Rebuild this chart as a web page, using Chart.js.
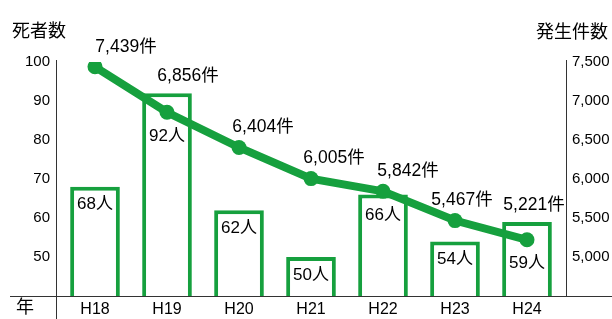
<!DOCTYPE html>
<html>
<head>
<meta charset="utf-8">
<script src="https://cdn.jsdelivr.net/npm/chart.js@4"></script>
<style>
body { margin: 0; background: #fff; }
</style>
</head>
<body>
<canvas id="graf" width="612" height="319"></canvas>
<script>
// dane
const lata = ['H18', 'H19', 'H20', 'H21', 'H22', 'H23', 'H24'];
const zgony = [68, 92, 62, 50, 66, 54, 59];
const wypadki = [7439, 6856, 6404, 6005, 5842, 5467, 5221];

const zielony = '#16a03e';
const czcionka = '"Liberation Sans", "Noto Sans CJK JP", sans-serif';
const liczba = v => v.toLocaleString('en-US');

// podpisy i osie
const podpisy = {
    id: 'podpisy',
    afterDraw(chart) {
        const ctx = chart.ctx;
        const a = chart.chartArea;
        const linia = chart.getDatasetMeta(0).data;
        const slupki = chart.getDatasetMeta(1).data;
        const dx = [31, 21, 24, 23, 25, 7, 7];

        ctx.save();
        // osie
        ctx.strokeStyle = '#333';
        ctx.lineWidth = 1;
        ctx.beginPath();
        ctx.moveTo(a.left - 3 + 0.5, 60);
        ctx.lineTo(a.left - 3 + 0.5, 319);
        ctx.moveTo(a.right + 3 + 0.5, 60);
        ctx.lineTo(a.right + 3 + 0.5, a.bottom);
        ctx.moveTo(10, a.bottom + 0.5);
        ctx.lineTo(612, a.bottom + 0.5);
        ctx.stroke();

        ctx.fillStyle = '#000';
        ctx.textBaseline = 'middle';
        ctx.textAlign = 'center';
        ctx.font = '18px ' + czcionka;
        ctx.fillText('死者数', 39, 32);
        ctx.fillText('発生件数', 572, 33);
        ctx.fillText('年', 25, 308);

        ctx.font = '17px ' + czcionka;
        slupki.forEach((b, i) => {
            const p = linia[i];
            const y = Math.max(b.y + 18, p.y + 24);
            ctx.fillText(zgony[i] + '人', b.x, y);
        });
        ctx.font = '17.5px ' + czcionka;
        linia.forEach((p, i) => {
            const b = slupki[i];
            const y = Math.min(p.y - 20, b.y - 17);
            ctx.fillText(liczba(wypadki[i]) + '件', p.x + dx[i], y);
        });
        ctx.restore();
    }
};

new Chart(document.getElementById('graf'), {
    data: {
        labels: lata,
        datasets: [{
            type: 'line',
            data: wypadki,
            yAxisID: 'y1',
            borderColor: zielony,
            backgroundColor: zielony,
            borderWidth: 8,
            pointRadius: 7.5,
            pointBorderWidth: 0,
            order: 0
        }, {
            type: 'bar',
            data: zgony,
            yAxisID: 'y',
            borderColor: zielony,
            backgroundColor: '#fff',
            borderWidth: 4,
            barPercentage: 0.69,
            categoryPercentage: 1,
            order: 1
        }]
    },
    options: {
        responsive: false,
        animation: false,
        layout: { padding: { top: 62, left: 0, right: 0, bottom: 0 } },
        plugins: { legend: { display: false }, tooltip: { enabled: false } },
        scales: {
            x: {
                offset: true,
                grid: { display: false, drawTicks: false },
                border: { display: false },
                ticks: { color: '#000', font: { size: 16, family: czcionka }, padding: 4 },
                afterFit: s => { s.height = 23; }
            },
            y: {
                position: 'left',
                min: 40,
                max: 100,
                grid: { display: false, drawTicks: false },
                border: { display: false },
                ticks: {
                    stepSize: 10,
                    color: '#000',
                    padding: 9,
                    font: { size: 15, family: czcionka },
                    callback: v => v == 40 ? '' : v
                },
                afterFit: s => { s.width = 59; }
            },
            y1: {
                position: 'right',
                min: 4500,
                max: 7500,
                grid: { display: false, drawTicks: false },
                border: { display: false },
                ticks: {
                    stepSize: 500,
                    color: '#000',
                    padding: 9,
                    font: { size: 15, family: czcionka },
                    callback: v => v == 4500 ? '' : liczba(v)
                },
                afterFit: s => { s.width = 49; }
            }
        }
    },
    plugins: [podpisy]
});
</script>
</body>
</html>
